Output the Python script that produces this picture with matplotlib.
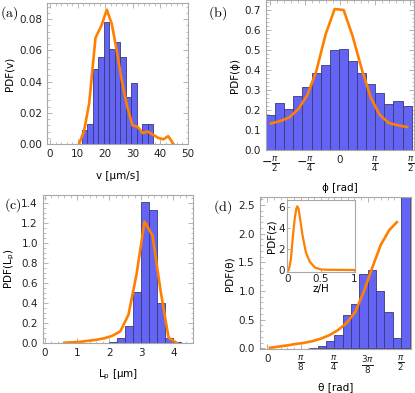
import numpy as np
import matplotlib
matplotlib.use("Agg")
import matplotlib.pyplot as plt
from matplotlib.ticker import MultipleLocator, FixedLocator

# ---- data ----
# (a) speed v
v_edges = [11.5, 13.5, 15.5, 17.5, 19.5, 21.5, 23.5, 25.5, 27.5, 29.5, 31.5, 33.5, 35.5]
v_width = 2.0
v_hist = [0.009, 0.013, 0.048, 0.056, 0.078, 0.061, 0.065, 0.056, 0.030, 0.039, 0.009, 0.013, 0.013]
v_line_x = [10.5, 12.3, 14.2, 16.5, 18.7, 20.6, 22.4, 24.2, 26.1, 28.0, 29.9, 31.8, 33.6, 35.4, 37.3, 39.2, 41.1, 42.9, 44.8]
v_line_y = [0.0, 0.008, 0.026, 0.068, 0.076, 0.086, 0.077, 0.060, 0.040, 0.024, 0.012, 0.011, 0.007, 0.008, 0.006, 0.004, 0.003, 0.005, 0.0]

# (b) in-plane angle phi
phi_edges = [-1.654, -1.451, -1.247, -1.044, -0.840, -0.637, -0.434, -0.230, -0.027,
             0.176, 0.380, 0.583, 0.787, 0.990, 1.193, 1.397]
phi_width = 0.2034
phi_hist = [0.175, 0.236, 0.205, 0.268, 0.316, 0.384, 0.426, 0.499, 0.504, 0.446,
            0.384, 0.331, 0.283, 0.228, 0.246, 0.219]
phi_line_x = [-1.54, -1.336, -1.13, -0.93, -0.73, -0.53, -0.32, -0.12, 0.08, 0.28,
              0.49, 0.69, 0.89, 1.09, 1.30, 1.50]
phi_line_y = [0.133, 0.145, 0.163, 0.205, 0.275, 0.395, 0.58, 0.705, 0.70, 0.57,
              0.40, 0.26, 0.175, 0.135, 0.123, 0.115]

# (c) pitch length Lp
lp_edges = [2.0, 2.25, 2.5, 2.75, 3.0, 3.25, 3.5, 3.75, 4.0]
lp_width = 0.25
lp_hist = [0.008, 0.05, 0.172, 0.504, 1.403, 1.327, 0.398, 0.043, 0.012]
lp_line_x = [0.6, 0.85, 1.1, 1.35, 1.6, 1.85, 2.1, 2.35, 2.6, 2.85, 3.1, 3.35, 3.6, 3.85, 4.1]
lp_line_y = [0.0, 0.005, 0.01, 0.02, 0.03, 0.045, 0.07, 0.115, 0.28, 0.68, 1.21, 1.07, 0.52, 0.05, 0.0]

# (d) polar angle theta (bins of pi/32)
th_bin = [5, 6, 7, 8, 9, 10, 11, 12, 13, 14, 15, 16]
th_hist = [0.012, 0.045, 0.134, 0.227, 0.587, 0.773, 1.297, 1.366, 1.006, 0.64, 0.174, 3.0]
th_line_x = [0.03, 0.13, 0.23, 0.33, 0.43, 0.53, 0.63, 0.73, 0.83, 0.93, 1.03, 1.13, 1.23, 1.33, 1.43, 1.52]
th_line_y = [0.01, 0.03, 0.05, 0.075, 0.095, 0.125, 0.17, 0.23, 0.32, 0.44, 0.63, 0.98, 1.40, 1.80, 2.06, 2.2]

# inset: height distribution
z_x = [0.0, 0.02, 0.045, 0.07, 0.10, 0.125, 0.14, 0.16, 0.18, 0.22, 0.27, 0.33, 0.41, 0.5, 0.6, 0.8, 1.0]
z_y = [0.0, 0.2, 1.1, 2.95, 4.8, 5.8, 6.05, 5.8, 5.0, 3.3, 1.7, 0.78, 0.22, 0.05, 0.02, 0.01, 0.0]

BAR = "#6464f4"
EDGE = "#3a3a78"
ORANGE = "#ff8000"
FRAME = "#a8a8a8"
FS = 7.5

plt.rcParams["font.family"] = "DejaVu Sans"
plt.rcParams["mathtext.fontset"] = "dejavusans"

fig = plt.figure(figsize=(4.15, 3.93), dpi=100)


def style(ax):
    for s in ax.spines.values():
        s.set_color(FRAME)
        s.set_linewidth(0.8)
    ax.tick_params(which="both", direction="in", top=True, right=True,
                   color=FRAME, labelsize=FS, labelcolor="#222222")
    ax.tick_params(which="major", length=3.5, width=0.6)
    ax.tick_params(which="minor", length=1.8, width=0.5)


def hist(ax, left, width, h):
    ax.bar(left, h, width=width, align="edge", color=BAR, edgecolor=EDGE,
           linewidth=0.6, zorder=2)


# (a)
ax = fig.add_axes([0.1133, 0.6336, 0.3398, 0.3588])
hist(ax, v_edges, v_width, v_hist)
ax.plot(v_line_x, v_line_y, color=ORANGE, lw=1.9, zorder=3)
ax.set_xlim(-1.1, 50.1)
ax.set_ylim(0, 0.0903)
ax.xaxis.set_major_locator(MultipleLocator(10))
ax.xaxis.set_minor_locator(MultipleLocator(2))
ax.yaxis.set_major_locator(MultipleLocator(0.02))
ax.yaxis.set_minor_locator(MultipleLocator(0.004))
ax.set_yticklabels([f"{t:.2f}" for t in ax.get_yticks()])
ax.set_xlabel("v [μm/s]", fontsize=FS, labelpad=9)
ax.set_ylabel("PDF(v)", fontsize=FS, labelpad=3)
style(ax)

# (b)
ax = fig.add_axes([0.641, 0.6183, 0.3557, 0.3817])
hist(ax, phi_edges, phi_width, phi_hist)
ax.plot(phi_line_x, phi_line_y, color=ORANGE, lw=1.9, zorder=3)
ax.set_xlim(-1.654, 1.644)
ax.set_ylim(0, 0.75)
ax.xaxis.set_major_locator(FixedLocator([-np.pi / 2, -np.pi / 4, 0, np.pi / 4, np.pi / 2]))
ax.xaxis.set_minor_locator(MultipleLocator(np.pi / 20))
ax.yaxis.set_major_locator(MultipleLocator(0.1))
ax.yaxis.set_minor_locator(MultipleLocator(0.02))
ax.set_xlabel("ϕ [rad]", fontsize=FS, labelpad=6)
ax.set_ylabel("PDF(ϕ)", fontsize=FS, labelpad=3)
style(ax)
ax.set_xticklabels([r"$-\frac{\pi}{2}$", r"$-\frac{\pi}{4}$", "0", r"$\frac{\pi}{4}$", r"$\frac{\pi}{2}$"])
for lab in ax.get_xticklabels():
    lab.set_fontsize(9 if "pi" in lab.get_text() else FS)

# (c)
ax = fig.add_axes([0.1029, 0.1265, 0.3614, 0.3774])
hist(ax, lp_edges, lp_width, lp_hist)
ax.plot(lp_line_x, lp_line_y, color=ORANGE, lw=1.9, zorder=3)
ax.set_xlim(-0.07, 4.6)
ax.set_ylim(-0.005, 1.476)
ax.xaxis.set_major_locator(MultipleLocator(1))
ax.xaxis.set_minor_locator(MultipleLocator(0.2))
ax.yaxis.set_major_locator(MultipleLocator(0.2))
ax.yaxis.set_minor_locator(MultipleLocator(0.05))
ax.set_xlabel(r"L$_\mathrm{p}$ [μm]", fontsize=FS, labelpad=7)
ax.set_ylabel(r"PDF(L$_\mathrm{p}$)", fontsize=FS, labelpad=3)
style(ax)

# (d)
ax = fig.add_axes([0.6258, 0.1112, 0.3653, 0.3868])
hist(ax, [k * np.pi / 32 for k in th_bin], np.pi / 32, th_hist)
ax.plot(th_line_x, th_line_y, color=ORANGE, lw=1.9, zorder=3)
ax.set_xlim(-0.09, 1.69)
ax.set_ylim(-0.017, 2.634)
ax.xaxis.set_major_locator(FixedLocator([0, np.pi / 8, np.pi / 4, 3 * np.pi / 8, np.pi / 2]))
ax.xaxis.set_minor_locator(MultipleLocator(np.pi / 40))
ax.yaxis.set_major_locator(MultipleLocator(0.5))
ax.yaxis.set_minor_locator(MultipleLocator(0.1))
ax.set_xlabel("θ [rad]", fontsize=FS, labelpad=4)
ax.set_ylabel("PDF(θ)", fontsize=FS, labelpad=3)
style(ax)
ax.set_xticklabels(["0", r"$\frac{\pi}{8}$", r"$\frac{\pi}{4}$", r"$\frac{3\pi}{8}$", r"$\frac{\pi}{2}$"])
for lab in ax.get_xticklabels():
    lab.set_fontsize(9 if "pi" in lab.get_text() else FS)

# inset
axi = fig.add_axes([0.6916, 0.3087, 0.1631, 0.1824])
axi.plot(z_x, z_y, color=ORANGE, lw=1.6)
axi.set_xlim(-0.015, 1.01)
axi.set_ylim(-0.16, 6.65)
axi.xaxis.set_major_locator(FixedLocator([0, 0.5, 1]))
axi.set_xticklabels(["0", "0.5", "1"])
axi.yaxis.set_major_locator(MultipleLocator(2))
axi.set_xlabel("z/H", fontsize=FS, labelpad=0)
axi.set_ylabel("PDF(z)", fontsize=FS, labelpad=1)
style(axi)
axi.tick_params(which="both", top=False, right=False, length=2, pad=1.5)
axi.set_facecolor("white")

# panel letters
for x, y, s in [(0.0, 0.967, "(a)"), (0.50, 0.967, "(b)"), (0.01, 0.477, "(c)"), (0.513, 0.474, "(d)")]:
    fig.text(x, y, r"$\mathrm{" + s + "}$", fontsize=10, math_fontfamily="cm", va="center")

fig.savefig("out.png", dpi=100)
